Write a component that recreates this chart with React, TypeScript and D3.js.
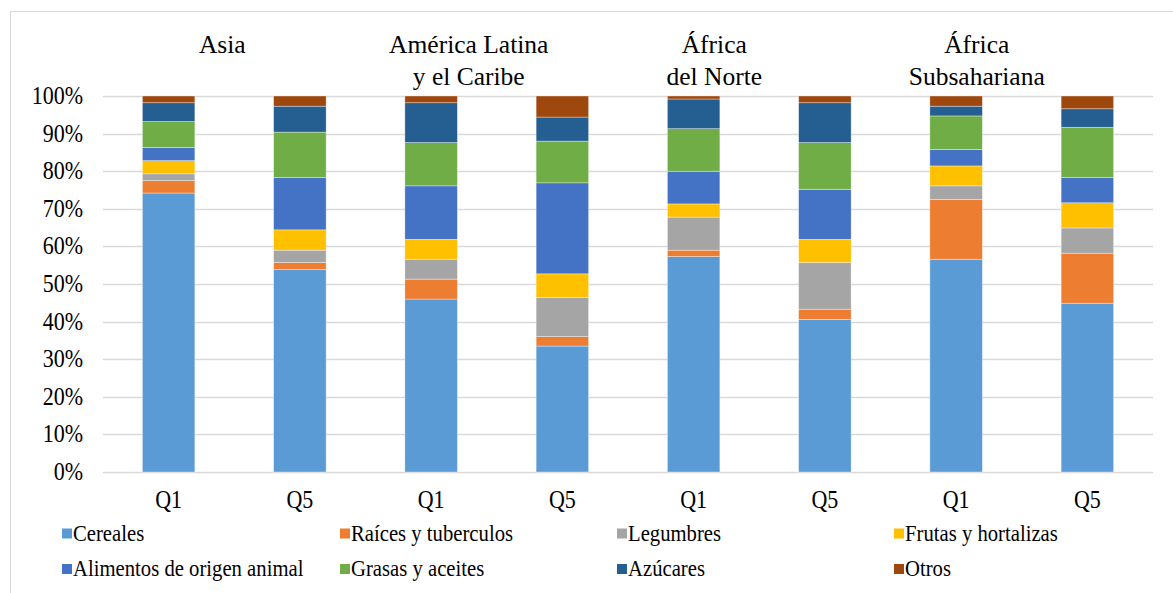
import React, { useEffect, useRef } from 'react';
import * as d3 from 'd3';

const regions = ['Asia', 'América Latina|y el Caribe', 'África|del Norte', 'África|Subsahariana'];
const quintiles = ['Q1', 'Q5'];
const yTicks = [0, 0.1, 0.2, 0.3, 0.4, 0.5, 0.6, 0.7, 0.8, 0.9, 1];

const seriesNames = [
  'Cereales', 'Raíces y tuberculos', 'Legumbres', 'Frutas y hortalizas',
  'Alimentos de origen animal', 'Grasas y aceites', 'Azúcares', 'Otros',
];
const seriesColors = ['#5B9BD5', '#ED7D31', '#A5A5A5', '#FFC000', '#4472C4', '#70AD47', '#255E91', '#9E480E'];

// order: Asia Q1, Asia Q5, ALC Q1, ALC Q5, AN Q1, AN Q5, ASS Q1, ASS Q5
const cereales = [74.2, 53.8, 46.0, 33.5, 57.3, 40.6, 56.6, 44.9];
const raices = [3.3, 1.9, 5.3, 2.5, 1.7, 2.7, 15.9, 13.3];
const legumbres = [1.8, 3.3, 5.3, 10.4, 8.8, 12.4, 3.6, 6.7];
const frutas = [3.5, 5.4, 5.3, 6.3, 3.5, 6.2, 5.3, 6.7];
const animal = [3.5, 13.9, 14.2, 24.2, 8.7, 13.3, 4.4, 6.7];
const grasas = [6.9, 12.1, 11.5, 11.1, 11.3, 12.4, 8.9, 13.4];
const azucares = [5.0, 6.9, 10.6, 6.4, 7.9, 10.6, 2.6, 4.9];
const otros = [1.8, 2.7, 1.8, 5.6, 0.8, 1.8, 2.7, 3.4];

const W = 1173;
const H = 593;

export default function App() {
  const svgRef = useRef<SVGSVGElement>(null);

  useEffect(() => {
    if (!svgRef.current) return;
    const svg = d3.select(svgRef.current);
    svg.selectAll('*').remove();

    const font = "'Liberation Serif', 'DejaVu Serif', serif";
    const left = 103, right = 1153, top = 96, bottom = 472;

    const keys = regions.flatMap((r, i) => quintiles.map(q => `${i}-${q}`));
    const allSeries = [cereales, raices, legumbres, frutas, animal, grasas, azucares, otros];
    const rows = keys.map((k, i) => {
      const row: Record<string, any> = { key: k, q: k.split('-')[1] };
      seriesNames.forEach((s, j) => { row[s] = allSeries[j][i]; });
      return row;
    });

    const x = d3.scaleBand().domain(keys).range([left, right]).paddingInner(0.6).paddingOuter(0.3);
    const y = d3.scaleLinear().domain([0, 1]).range([bottom, top]);

    const stacked = d3.stack<any>().keys(seriesNames).offset(d3.stackOffsetExpand)(rows);

    // chart frame
    svg.append('rect')
      .attr('x', 10.5).attr('y', 11.5)
      .attr('width', W + 20).attr('height', H + 20)
      .attr('fill', 'white').attr('stroke', '#d9d9d9').attr('stroke-width', 1);

    // gridlines
    svg.append('g').selectAll('line').data(yTicks).enter().append('line')
      .attr('x1', left).attr('x2', right)
      .attr('y1', d => Math.round(y(d)) + 0.5).attr('y2', d => Math.round(y(d)) + 0.5)
      .attr('stroke', '#d9d9d9').attr('stroke-width', 1.3);

    // y labels (source text is a bit narrow, so squeeze horizontally)
    svg.append('g').selectAll('text').data(yTicks).enter().append('text')
      .attr('transform', d => `translate(83,${y(d) + 8}) scale(0.88,1)`)
      .attr('text-anchor', 'end')
      .style('font-family', font).style('font-size', '25px')
      .attr('fill', '#000')
      .text(d => `${Math.round(d * 100)}%`);

    // bars
    svg.append('g').selectAll('g').data(stacked).enter().append('g')
      .attr('fill', (_d, i) => seriesColors[i])
      .selectAll('rect').data(d => d).enter().append('rect')
      .attr('x', d => x(d.data.key) as number)
      .attr('width', x.bandwidth())
      .attr('y', d => y(d[1]))
      .attr('height', d => y(d[0]) - y(d[1]))
      .attr('stroke', 'rgba(255,255,255,0.6)')
      .attr('stroke-width', 0.6);

    // x labels
    svg.append('g').selectAll('text').data(rows).enter().append('text')
      .attr('transform', d => `translate(${(x(d.key) as number) + x.bandwidth() / 2},508) scale(0.88,1)`)
      .attr('text-anchor', 'middle')
      .style('font-family', font).style('font-size', '25px')
      .attr('fill', '#000')
      .text(d => d.q);

    // region titles, centred a little left of each group's middle as in the original
    const titleShift = [-12, -28, -45, -45];
    regions.forEach((r, i) => {
      const cx = (x(`${i}-Q1`) as number) + x.bandwidth() / 2 + x.step() / 2 + titleShift[i];
      const t = svg.append('text')
        .attr('x', cx).attr('y', 53)
        .attr('text-anchor', 'middle')
        .style('font-family', font).style('font-size', '25.5px')
        .attr('fill', '#000');
      r.split('|').forEach((line, li) => {
        t.append('tspan').attr('x', cx).attr('dy', li === 0 ? 0 : 32).text(line);
      });
    });

    // legend
    const legendX = [62, 340, 617, 894];
    const legendY = [533.5, 569];
    const lg = svg.append('g').selectAll('g').data(seriesNames).enter().append('g')
      .attr('transform', (_d, i) => `translate(${legendX[i % 4]},${legendY[Math.floor(i / 4)]})`);
    lg.append('rect')
      .attr('x', 0).attr('y', -5).attr('width', 10).attr('height', 10)
      .attr('fill', (_d, i) => seriesColors[i]);
    lg.append('text')
      .attr('transform', 'translate(11,7) scale(0.92,1)')
      .style('font-family', font).style('font-size', '22.5px')
      .attr('fill', '#000')
      .text(d => d);
  }, []);

  return (
    <svg ref={svgRef} width={W} height={H} viewBox={`0 0 ${W} ${H}`}
      style={{ position: 'absolute', left: 0, top: 0, background: '#fff' }} />
  );
}
